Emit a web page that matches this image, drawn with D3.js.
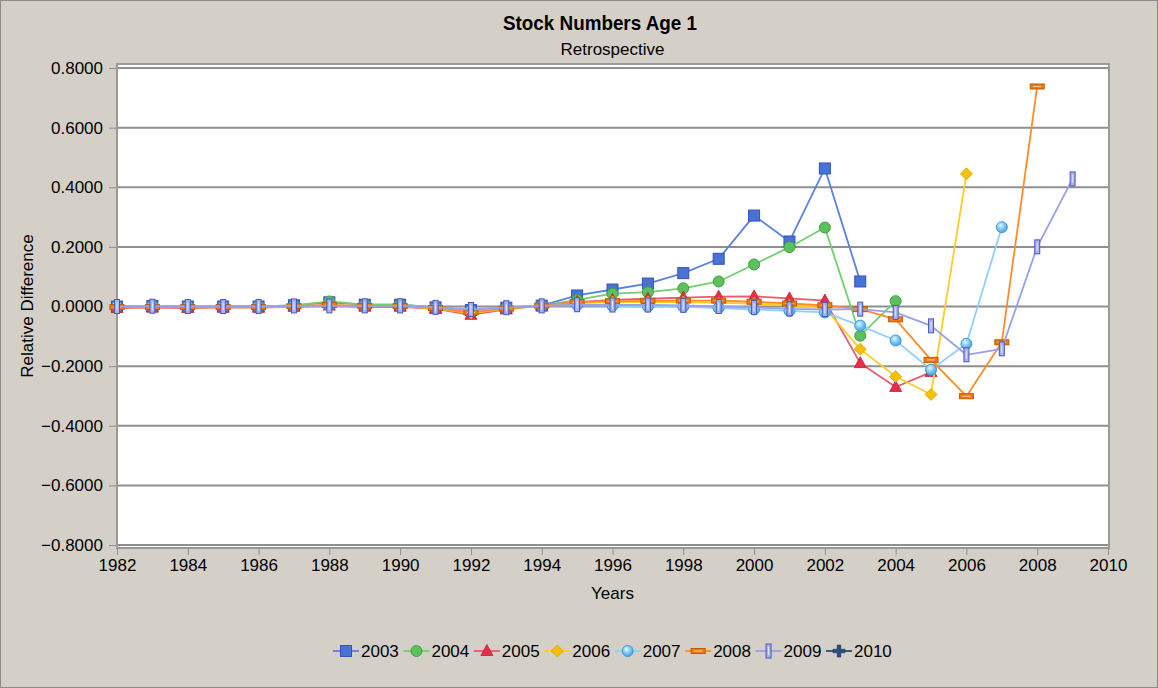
<!DOCTYPE html>
<html>
<head>
<meta charset="utf-8">
<script src="https://cdn.jsdelivr.net/npm/d3@7"></script>
<style>
  html, body { margin: 0; padding: 0; background: #d4d0c8; }
  svg { display: block; font-family: "Liberation Sans", Arial, sans-serif; }
</style>
</head>
<body>
<svg id="chart" width="1158" height="688"></svg>
<script>
// ---------------- data ----------------
const title = "Stock Numbers Age 1";
const subtitle = "Retrospective";
const xLabel = "Years";
const yLabel = "Relative Difference";
const years = [1982,1983,1984,1985,1986,1987,1988,1989,1990,1991,1992,1993,1994,1995,1996,1997,1998,1999,2000,2001,2002,2003,2004,2005,2006,2007,2008,2009,2010];
const xTicks = [1982,1984,1986,1988,1990,1992,1994,1996,1998,2000,2002,2004,2006,2008,2010];
const yTicks = [-0.8,-0.6,-0.4,-0.2,0,0.2,0.4,0.6,0.8];
const seriesNames = ["2003","2004","2005","2006","2007","2008","2009","2010"];

const s2003 = [0,0.002,0,0,0,0.004,0.014,0.006,0.006,-0.003,-0.012,-0.004,
               0.003,0.037,0.057,0.077,0.112,0.16,0.305,0.218,0.463,0.084];
const s2004 = [0,0.002,0,0,0,0.004,0.017,0.006,0.006,-0.003,-0.014,-0.004,
               0.003,0.022,0.043,0.048,0.061,0.084,0.141,0.199,0.265,-0.098,0.018];
const s2005 = [-0.005,-0.004,-0.005,-0.004,-0.004,-0.001,0.003,-0.001,-0.001,-0.008,-0.028,-0.01,
               0.004,0.015,0.022,0.026,0.03,0.033,0.034,0.027,0.02,-0.19,-0.27,-0.22];
const s2006 = [-0.003,-0.002,-0.003,-0.003,-0.003,0,0.004,0.001,0.001,-0.007,-0.022,-0.008,
               0.003,0.012,0.015,0.015,0.015,0.012,0.01,0.004,-0.005,-0.143,-0.235,-0.295,0.445];
const s2007 = [0,0.001,0,0,0,0.002,0.004,0.002,0.002,-0.004,-0.014,-0.006,
               0.002,0.005,0.002,0,-0.001,-0.005,-0.01,-0.015,-0.02,-0.064,-0.114,-0.212,-0.125,0.266];
const s2008 = [-0.002,-0.002,-0.002,-0.002,-0.002,0.001,0.005,0.002,0.002,-0.005,-0.02,-0.007,
               0.003,0.015,0.018,0.019,0.02,0.02,0.016,0.01,0.004,-0.009,-0.043,-0.179,-0.301,-0.12,0.738];
const s2009 = [0,0.001,0,0,0,0.002,0.002,0.002,0.002,-0.003,-0.01,-0.004,
               0.002,0.006,0.005,0.005,0.004,0,-0.003,-0.008,-0.01,-0.009,-0.02,-0.065,-0.162,-0.142,0.2,0.428];
const s2010 = [];

const seriesValues = [s2003,s2004,s2005,s2006,s2007,s2008,s2009,s2010];

// ---------------- styles ----------------
const styles = [
  {line:"#5b82e0", fill:"#4a72d4", stroke:"#2e55b8", shape:"square"},
  {line:"#70d070", fill:"#5cc05c", stroke:"#3fa03f", shape:"circle"},
  {line:"#ea5a70", fill:"#e2304a", stroke:"#c02038", shape:"triangle"},
  {line:"#ffcc22", fill:"#f5c000", stroke:"#dba500", shape:"diamond"},
  {line:"#8fd0fa", fill:"url(#gradLB)", stroke:"#3c9ad8", shape:"ball"},
  {line:"#ff8c2a", fill:"#ee7a18", stroke:"#c05a00", shape:"hbar"},
  {line:"#98a0ea", fill:"#a8b0f0", stroke:"#4a58b8", shape:"vbar"},
  {line:"#2c4c7c", fill:"#2c4c7c", stroke:"#1c3660", shape:"plus"}
];

// ---------------- layout ----------------
const W = 1158, H = 688;
const plot = {left:117, right:1108, top:64, bottom:548};
const svg = d3.select("#chart");

const defs = svg.append("defs");
const g = defs.append("radialGradient").attr("id","gradLB").attr("cx","40%").attr("cy","35%").attr("r","65%");
g.append("stop").attr("offset","0%").attr("stop-color","#e8f6ff");
g.append("stop").attr("offset","55%").attr("stop-color","#7cc6f2");
g.append("stop").attr("offset","100%").attr("stop-color","#4aa4e0");

svg.append("rect").attr("x",0.5).attr("y",0.5).attr("width",W-1).attr("height",H-1)
  .attr("fill","#d4d0c8").attr("stroke","#8c8c8c");

const x = d3.scaleLinear().domain([1982,2010]).range([plot.left, plot.right]);
const y = d3.scaleLinear().domain([-0.8,0.8]).range([545, 68]);

// plot background
svg.append("rect").attr("x",plot.left).attr("y",plot.top)
  .attr("width",plot.right-plot.left+1).attr("height",plot.bottom-plot.top)
  .attr("fill","#ffffff");

// gridlines
svg.append("g").selectAll("line").data(yTicks).join("line")
  .attr("x1",plot.left).attr("x2",plot.right+1)
  .attr("y1",d=>y(d)).attr("y2",d=>y(d))
  .attr("stroke","#8f8f8f").attr("stroke-width",2);

// frame
svg.append("rect").attr("x",plot.left).attr("y",plot.top)
  .attr("width",plot.right-plot.left+1).attr("height",plot.bottom-plot.top)
  .attr("fill","none").attr("stroke","#9a9a9a").attr("stroke-width",2);

// axes
const yAxis = d3.axisLeft(y).tickValues(yTicks).tickFormat(d3.format(".4f")).tickSize(7).tickPadding(6);
const yg = svg.append("g").attr("transform",`translate(${plot.left-1},0)`).call(yAxis);
yg.select(".domain").remove();
yg.selectAll(".tick line").attr("stroke","#8f8f8f");
yg.selectAll("text").attr("font-size",17).attr("fill","#000").attr("font-family","Liberation Sans, Arial, sans-serif");

const xAxis = d3.axisBottom(x).tickValues(xTicks).tickFormat(d3.format("d")).tickSize(7).tickPadding(4);
const xg = svg.append("g").attr("transform",`translate(0,${plot.bottom})`).call(xAxis);
xg.select(".domain").remove();
xg.selectAll(".tick line").attr("stroke","#8f8f8f");
xg.selectAll("text").attr("font-size",17).attr("fill","#000").attr("font-family","Liberation Sans, Arial, sans-serif");

// titles
svg.append("text").attr("x",600).attr("y",30).attr("text-anchor","middle")
  .attr("font-size",21).attr("font-weight","bold").attr("fill","#000")
  .attr("textLength",194).attr("lengthAdjust","spacingAndGlyphs").text(title);
svg.append("text").attr("x",(plot.left+plot.right)/2).attr("y",55).attr("text-anchor","middle")
  .attr("font-size",17).attr("fill","#000").text(subtitle);
svg.append("text").attr("x",(plot.left+plot.right)/2).attr("y",599).attr("text-anchor","middle")
  .attr("font-size",17).attr("fill","#000").text(xLabel);
svg.append("text").attr("transform","translate(33,306) rotate(-90)").attr("text-anchor","middle")
  .attr("font-size",17).attr("fill","#000").text(yLabel);

// markers
function drawMarker(sel, st) {
  switch (st.shape) {
    case "square":
      sel.append("rect").attr("x",-5.5).attr("y",-5.5).attr("width",11).attr("height",11)
        .attr("fill",st.fill).attr("stroke",st.stroke).attr("stroke-width",1); break;
    case "circle":
    case "ball":
      sel.append("circle").attr("r",5.5).attr("fill",st.fill).attr("stroke",st.stroke).attr("stroke-width",1); break;
    case "triangle":
      sel.append("path").attr("d","M0,-6.5L6,4.5L-6,4.5Z").attr("fill",st.fill).attr("stroke",st.stroke).attr("stroke-width",0.8); break;
    case "diamond":
      sel.append("path").attr("d","M0,-6L6,0L0,6L-6,0Z").attr("fill",st.fill).attr("stroke",st.stroke).attr("stroke-width",0.8); break;
    case "hbar":
      sel.append("rect").attr("x",-7).attr("y",-2.5).attr("width",14).attr("height",5)
        .attr("fill",st.fill).attr("stroke",st.stroke).attr("stroke-width",1);
      sel.append("line").attr("x1",-4).attr("x2",4).attr("y1",0).attr("y2",0).attr("stroke","#ffd0a0").attr("stroke-width",1); break;
    case "vbar":
      sel.append("rect").attr("x",-2.5).attr("y",-7).attr("width",5).attr("height",14)
        .attr("fill",st.fill).attr("stroke",st.stroke).attr("stroke-width",1);
      sel.append("line").attr("x1",0).attr("x2",0).attr("y1",-4).attr("y2",4).attr("stroke","#e4e8ff").attr("stroke-width",1); break;
    case "plus":
      sel.append("path").attr("d","M-1.8,-6H1.8V-1.8H6V1.8H1.8V6H-1.8V1.8H-6V-1.8H-1.8Z")
        .attr("fill",st.fill).attr("stroke",st.stroke).attr("stroke-width",0.6); break;
  }
}

const line = d3.line().x(d=>x(d[0])).y(d=>y(d[1]));
const seriesG = svg.append("g");
seriesValues.forEach((vals, i) => {
  const pts = vals.map((v, j) => [years[j], v]);
  const st = styles[i];
  const gg = seriesG.append("g");
  gg.append("path").datum(pts).attr("d",line).attr("fill","none")
    .attr("stroke",st.line).attr("stroke-width",1.8);
  gg.selectAll("g.m").data(pts).join("g").attr("class","m")
    .attr("transform",d=>`translate(${x(d[0])},${y(d[1])})`)
    .each(function(){ drawMarker(d3.select(this), st); });
});

// legend
const legX = d3.scalePoint().domain(seriesNames).range([333, 826]);
const lg = svg.append("g");
seriesNames.forEach((name, i) => {
  const st = styles[i];
  const x0 = legX(name);
  lg.append("line").attr("x1",x0).attr("x2",x0+26).attr("y1",651).attr("y2",651)
    .attr("stroke",st.line).attr("stroke-width",1.8);
  const m = lg.append("g").attr("transform",`translate(${x0+13},651)`);
  drawMarker(m, st);
  lg.append("text").attr("x",x0+28).attr("y",657).attr("font-size",17).attr("fill","#000").text(name);
});
</script>
</body>
</html>
